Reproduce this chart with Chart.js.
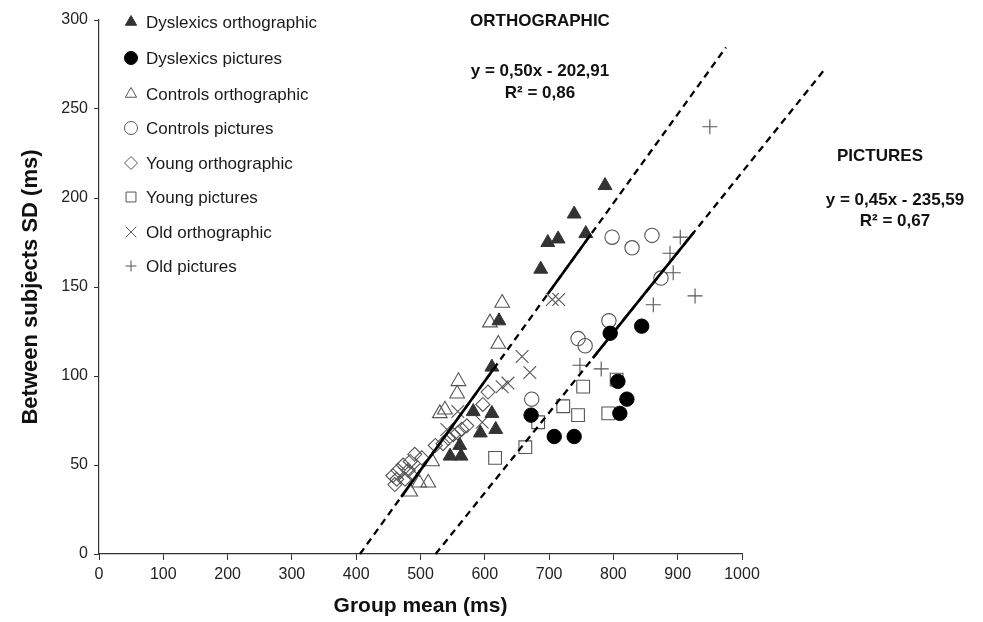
<!DOCTYPE html>
<html><head><meta charset="utf-8">
<script src="https://cdn.jsdelivr.net/npm/chart.js@4/dist/chart.umd.min.js"></script>
<style>html,body{margin:0;padding:0;background:#fff}#wrap{width:983px;height:622px;position:relative}</style>
</head><body><div id="wrap"><canvas id="c"></canvas></div>
<script>
// ---- data ----
const xTickValues = [0,100,200,300,400,500,600,700,800,900,1000];
const yTickValues = [0,50,100,150,200,250,300];
const seriesNames = ['Dyslexics orthographic','Dyslexics pictures','Controls orthographic','Controls pictures','Young orthographic','Young pictures','Old orthographic','Old pictures'];

const dysOrthoX = [787,739,714,698,757,687,622,611,582,611,593,617,561,546,563];
const dysOrthoY = [207,191,177,175,180,160,131,105,80,79,68,70,61,55,55];
const dysPicX = [844,795,807,821,810,708,739,672];
const dysPicY = [128,124,97,87,79,66,66,78];
const conOrthoX = [627,608,621,559,557,530,538,518,512,484,498];
const conOrthoY = [141,130,118,97,90,79,81,52,40,35,40];
const conPicX = [798,829,860,874,793,745,756,673];
const conPicY = [178,172,179,155,131,121,117,87];
const youOrthoX = [605,597,572,564,551,558,543,535,523,502,491,484,473,465,457,463,481,476,460];
const youOrthoY = [91,84,72,70,67,68,65,62,61,54,56,52,50,47,44,42,47,42,39];
const youPicX = [805,753,722,745,792,683,663,616];
const youPicY = [98,94,83,78,79,74,60,54];
const oldOrthoX = [705,715,658,670,636,627,596,558,541,489,476];
const oldOrthoY = [143,143,111,102,96,94,74,80,70,47,45];
const oldPicX = [950,904,888,893,927,862,748,781];
const oldPicY = [240,178,169,158,145,140,106,104];

// regression lines as printed on the chart
const orthoSlope = 0.50, orthoIntercept = -202.91;
const picSlope = 0.45, picIntercept = -235.59;
const orthoLineRange = [405.8, 975];
const picLineRange = [523.5, 1128];
const orthoSolidRanges = [[470, 615], [698, 765]];
const picSolidRanges = [[768, 925]];
const orthoLabel = ['ORTHOGRAPHIC', 'y = 0,50x - 202,91', 'R\u00B2 = 0,86'];
const picLabel = ['PICTURES', 'y = 0,45x - 235,59', 'R\u00B2 = 0,67'];

// ---- build ----
const zip = (xs, ys) => xs.map((x, i) => ({x, y: ys[i]}));
const lineFrom = (m, b, r) => r.map(x => ({x, y: m * x + b}));

const markerStyles = [
  {pointStyle:'triangle', radius:8, bg:'#333', border:'#333', bw:1},
  {pointStyle:'circle', radius:7.2, bg:'#000', border:'#000', bw:1},
  {pointStyle:'triangle', radius:8.5, bg:'rgba(0,0,0,0)', border:'#555', bw:1.1},
  {pointStyle:'circle', radius:7.2, bg:'rgba(0,0,0,0)', border:'#555', bw:1.1},
  {pointStyle:'rectRot', radius:7, bg:'rgba(0,0,0,0)', border:'#555', bw:1.1},
  {pointStyle:'rect', radius:9, bg:'rgba(0,0,0,0)', border:'#555', bw:1.1},
  {pointStyle:'crossRot', radius:9, bg:'rgba(0,0,0,0)', border:'#555', bw:1.1},
  {pointStyle:'cross', radius:7.5, bg:'rgba(0,0,0,0)', border:'#555', bw:1.1}
];
const seriesData = [
  zip(dysOrthoX, dysOrthoY), zip(dysPicX, dysPicY), zip(conOrthoX, conOrthoY), zip(conPicX, conPicY),
  zip(youOrthoX, youOrthoY), zip(youPicX, youPicY), zip(oldOrthoX, oldOrthoY), zip(oldPicX, oldPicY)
];

const datasets = seriesData.map((d, i) => ({
  label: seriesNames[i], data: d, order: 5,
  pointStyle: markerStyles[i].pointStyle, pointRadius: markerStyles[i].radius,
  pointBackgroundColor: markerStyles[i].bg, pointBorderColor: markerStyles[i].border,
  pointBorderWidth: markerStyles[i].bw, showLine: false
}));

function dashed(m, b, r) {
  return {label: '_fit', data: lineFrom(m, b, r), showLine: true, pointRadius: 0, borderColor: '#000',
    borderWidth: 2.3, borderDash: [7, 5], clip: false, order: 1, fill: false};
}
function solid(m, b, r) {
  return {label: '_fit', data: lineFrom(m, b, r), showLine: true, pointRadius: 0, borderColor: '#000',
    borderWidth: 2.6, clip: false, order: 0, fill: false};
}
datasets.push(dashed(orthoSlope, orthoIntercept, orthoLineRange));
datasets.push(dashed(picSlope, picIntercept, picLineRange));
orthoSolidRanges.forEach(r => datasets.push(solid(orthoSlope, orthoIntercept, r)));
picSolidRanges.forEach(r => datasets.push(solid(picSlope, picIntercept, r)));

const FONT = '"Liberation Sans", Arial, Helvetica, sans-serif';

const legendPlugin = {
  id: 'customLegend',
  afterDraw(chart) {
    const ctx = chart.ctx;
    const rows = [22, 58, 94, 128, 163, 197, 232, 266];
    const mx = 131, tx = 146;
    ctx.save();
    seriesNames.forEach((name, i) => {
      const s = markerStyles[i];
      ctx.fillStyle = s.bg; ctx.strokeStyle = s.border; ctx.lineWidth = 1;
      const r = s.pointStyle === 'rect' ? 7 : (s.pointStyle === 'crossRot' ? 7.5 : (s.pointStyle === 'cross' ? 5.5 : 6.5));
      Chart.helpers.drawPoint(ctx, {pointStyle: s.pointStyle, radius: r, borderWidth: 1, rotation: 0}, mx, rows[i]);
      ctx.fillStyle = '#1a1a1a';
      ctx.font = '17px ' + FONT;
      ctx.textAlign = 'left'; ctx.textBaseline = 'middle';
      ctx.fillText(name, tx, rows[i] + 1);
    });
    // annotation texts
    ctx.fillStyle = '#111';
    ctx.textAlign = 'center'; ctx.textBaseline = 'middle';
    ctx.font = 'bold 17px ' + FONT;
    ctx.fillText(orthoLabel[0], 540, 21);
    ctx.fillText(orthoLabel[1], 540, 71);
    ctx.fillText(orthoLabel[2], 540, 93);
    ctx.fillText(picLabel[0], 880, 156);
    ctx.fillText(picLabel[1], 895, 200);
    ctx.fillText(picLabel[2], 895, 221);
    ctx.restore();
  }
};

new Chart(document.getElementById('c'), {
  type: 'scatter',
  data: {datasets},
  plugins: [legendPlugin],
  options: {
    responsive: true, maintainAspectRatio: false, animation: false,
    layout: {padding: {top: 20, right: 241, bottom: 0, left: 0}},
    plugins: {legend: {display: false}, tooltip: {enabled: false}},
    scales: {
      x: {
        type: 'linear', min: 0, max: 1000,
        afterFit: s => { s.height = 68; },
        afterBuildTicks: s => { s.ticks = xTickValues.map(v => ({value: v})); },
        grid: {display: true, drawOnChartArea: false, tickLength: 6, color: '#333', tickColor: '#333', tickWidth: 1},
        border: {display: true, color: '#333', width: 1.2},
        ticks: {color: '#222', font: {family: FONT, size: 16}, padding: 5, maxRotation: 0, callback: v => String(v)},
        title: {display: true, text: 'Group mean (ms)', color: '#111', font: {family: FONT, size: 21, weight: 'bold'}, padding: {top: 0, bottom: 3}}
      },
      y: {
        type: 'linear', min: 0, max: 300,
        afterFit: s => { s.width = 99; },
        afterBuildTicks: s => { s.ticks = yTickValues.map(v => ({value: v})); },
        grid: {display: true, drawOnChartArea: false, tickLength: 5, color: '#333', tickColor: '#333', tickWidth: 1},
        border: {display: true, color: '#333', width: 1.2},
        ticks: {color: '#222', font: {family: FONT, size: 16}, padding: 6, callback: v => String(v)},
        title: {display: true, text: 'Between subjects SD (ms)', color: '#111', font: {family: FONT, size: 22, weight: 'bold'}, padding: {top: 18, bottom: 0}}
      }
    }
  }
});
</script></body></html>
